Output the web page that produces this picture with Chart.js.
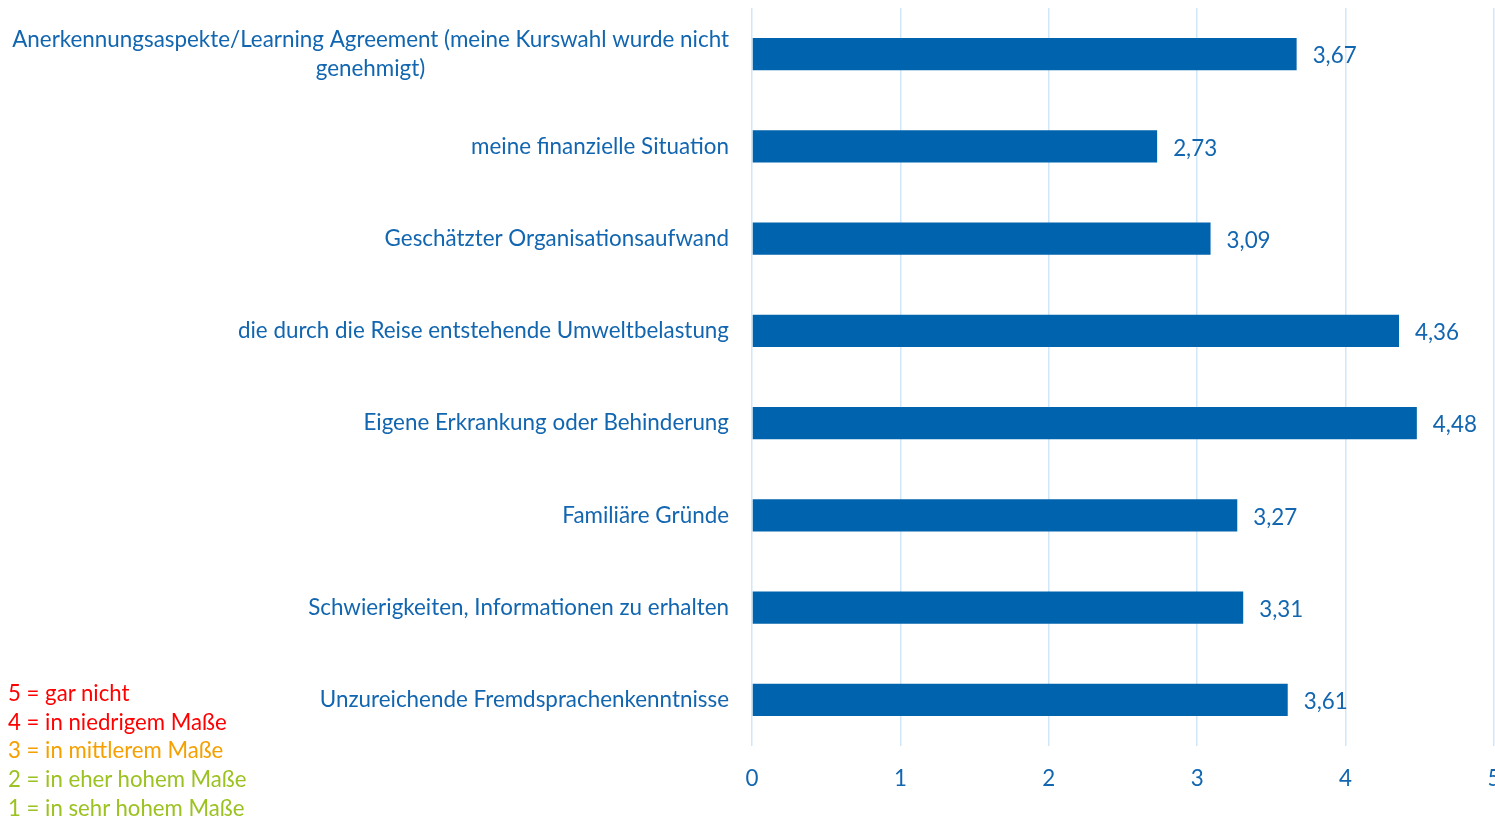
<!DOCTYPE html>
<html>
<head>
<meta charset="utf-8">
<script src="https://cdn.jsdelivr.net/npm/chart.js@4"></script>
<style>
  html, body { margin: 0; padding: 0; background: #fff; overflow: hidden; width: 1495px; height: 818px; }
  #c { position: absolute; left: 0; top: 0; }
  #legend { position: absolute; left: 8px; top: 679px; font-family: Lato, "Open Sans", sans-serif; font-size: 22.2px; line-height: 28.7px; }
  #legend div { white-space: nowrap; }
</style>
</head>
<body>
<canvas id="c" width="1505" height="818"></canvas>
<div id="legend">
  <div style="color:#FF0000">5 = gar nicht</div>
  <div style="color:#FF0000">4 = in niedrigem Maße</div>
  <div style="color:#F5A000">3 = in mittlerem Maße</div>
  <div style="color:#9BC220">2 = in eher hohem Maße</div>
  <div style="color:#9BC220">1 = in sehr hohem Maße</div>
</div>
<script>
const categories = [
  ["Anerkennungsaspekte/Learning Agreement (meine Kurswahl wurde nicht", "genehmigt)"],
  "meine finanzielle Situation",
  "Geschätzter Organisationsaufwand",
  "die durch die Reise entstehende Umweltbelastung",
  "Eigene Erkrankung oder Behinderung",
  "Familiäre Gründe",
  "Schwierigkeiten, Informationen zu erhalten",
  "Unzureichende Fremdsprachenkenntnisse"
];
const values = [3.67, 2.73, 3.09, 4.36, 4.48, 3.27, 3.31, 3.61];
const xTicks = [0, 1, 2, 3, 4, 5];

const TEXT = '#1266B0';
const BAR = '#0063AD';
const GRID = '#CFE7F9';
const FONT = 'Lato, "Open Sans", sans-serif';
const FSIZE = 22.4;

// center multi-line labels (pad shorter lines with trailing spaces)
const mctx = document.createElement('canvas').getContext('2d');
function centerLines(lines) {
  if (!Array.isArray(lines)) return lines;
  const w = lines.map(l => mctx.measureText(l).width);
  const maxW = Math.max(...w);
  const sp = mctx.measureText(' ').width;
  return lines.map((l, i) => l + ' '.repeat(Math.round((maxW - w[i]) / 2 / sp)));
}

const valueLabels = {
  id: 'valueLabels',
  afterDatasetsDraw(chart) {
    const ctx = chart.ctx;
    const meta = chart.getDatasetMeta(0);
    ctx.save();
    ctx.font = FSIZE + 'px ' + FONT;
    ctx.fillStyle = TEXT;
    ctx.textAlign = 'left';
    ctx.textBaseline = 'middle';
    meta.data.forEach((el, i) => {
      ctx.fillText(values[i].toFixed(2).replace('.', ','), el.x + 16, el.y + 2);
    });
    ctx.restore();
  }
};

document.fonts.load(FSIZE + 'px Lato').then(() => {
  mctx.font = FSIZE + 'px ' + FONT;
  new Chart(document.getElementById('c'), {
    type: 'bar',
    data: {
      labels: categories.map(centerLines),
      datasets: [{
        data: values,
        backgroundColor: BAR,
        borderWidth: 0,
        barPercentage: 0.7,
        categoryPercentage: 0.5
      }]
    },
    options: {
      indexAxis: 'y',
      responsive: false,
      animation: false,
      layout: { padding: { left: 0, right: 11, top: 8, bottom: 0 } },
      plugins: { legend: { display: false }, tooltip: { enabled: false } },
      scales: {
        x: {
          min: 0, max: 5,
          afterBuildTicks(scale) { scale.ticks = xTicks.map(v => ({ value: v })); },
          grid: { color: GRID, lineWidth: 1.5, drawTicks: false },
          border: { display: false },
          ticks: { color: TEXT, font: { family: FONT, size: FSIZE }, padding: 19 },
          afterFit(scale) { scale.height = 72; scale.paddingLeft = 0; scale.paddingRight = 0; }
        },
        y: {
          grid: { display: false, drawTicks: false },
          border: { display: false },
          ticks: { color: TEXT, font: { family: FONT, size: FSIZE, lineHeight: 1.3 }, padding: 23, autoSkip: false },
          afterFit(scale) { scale.width = 752; scale.paddingTop = 0; scale.paddingBottom = 0; }
        }
      }
    },
    plugins: [valueLabels]
  });
});
</script>
</body>
</html>
